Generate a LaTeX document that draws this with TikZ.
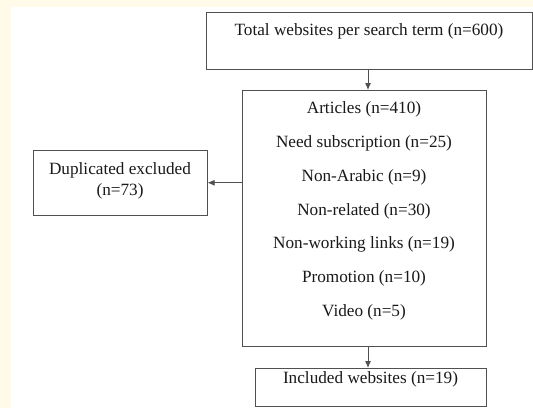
\documentclass[tikz,border=0pt]{standalone}
\usepackage{fontspec}
\setmainfont{Liberation Serif}
\usetikzlibrary{arrows.meta}

\definecolor{fondo}{RGB}{255,251,232}
\definecolor{borde}{RGB}{80,80,80}
\definecolor{texto}{RGB}{25,25,25}

\tikzset{
  caja/.style={draw=borde, line width=1pt, text=texto, inner sep=0pt, anchor=north},
  flecha/.style={draw=borde, line width=1pt, -{Latex[length=7pt,width=6pt]}}
}

\begin{document}
\begin{tikzpicture}[x=1pt,y=-1pt]
% Fondo
\useasboundingbox (0,0) rectangle (533,408);
\fill[fondo] (0,0) rectangle (533,408);
\fill[white] (11,7) rectangle (533,408);
% Caja superior
\node[caja, minimum width=326pt, text height=22.5pt, text depth=34.5pt,
  font=\fontsize{17.2}{20}\selectfont] (total) at (369,12)
  {Total websites per search term (n=600)};
% Caja central
\node[caja, minimum width=244pt, text height=226pt, text depth=30pt,
  align=center, font=\fontsize{17.2}{33.8}\selectfont] (screen) at (364,90)
  {Articles (n=410)\\ Need subscription (n=25)\\ Non-Arabic (n=9)\\
   Non-related (n=30)\\ Non-working links (n=19)\\ Promotion (n=10)\\ Video (n=5)};
% Caja izquierda
\node[caja, minimum width=174pt, text height=45pt, text depth=19.5pt,
  align=center, font=\fontsize{17.2}{21.3}\selectfont] (dup) at (120,150)
  {Duplicated excluded\\ (n=73)};
% Caja inferior
\node[caja, minimum width=231pt, text height=14.5pt, text depth=23.5pt,
  font=\fontsize{17.2}{20}\selectfont] (incl) at (370.5,368)
  {Included websites (n=19)};
% Flechas
\draw[flecha] ([xshift=-1pt]total.south) -- ([xshift=-1pt]total.south |- screen.north);
\draw[flecha] (screen.west |- dup.east) -- (dup.east);
\draw[flecha] ([xshift=-1pt]screen.south -| total.south) -- ([xshift=-1pt]incl.north -| total.south);
\end{tikzpicture}
\end{document}
